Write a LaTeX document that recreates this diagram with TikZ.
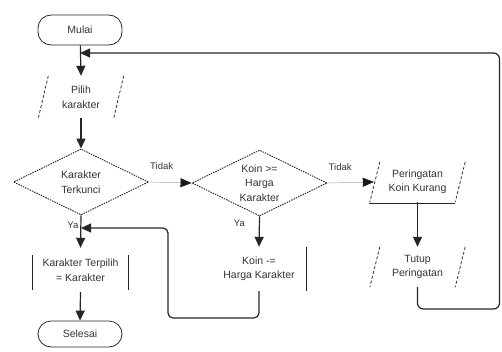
\documentclass[tikz,border=0pt]{standalone}
\usepackage{fontspec}
\setmainfont{Liberation Sans}
\usetikzlibrary{shapes.geometric,arrows.meta,calc}
\begin{document}
\begin{tikzpicture}[x=1pt,y=-1pt,
  every node/.style={font=\fontsize{10.5}{14.5}\selectfont, align=center, text=black!80},
  line/.style={line width=1.2pt, draw=black!85},
  arr/.style={line, -{Triangle[length=10pt,width=9pt]}},
  faintarr/.style={line width=0.5pt, draw=black!35, -{Triangle[length=11pt,width=9pt,color=black!90]}},
  term/.style={draw=black!85, line width=0.8pt, rounded corners=13pt, minimum width=84pt, minimum height=30pt, inner sep=0pt},
  dec/.style={diamond, draw=black!85, line width=0.9pt, dash pattern=on 1.5pt off 1pt, aspect=2, minimum width=135pt, minimum height=66pt, inner sep=0pt},
  io/.style={minimum width=75pt, minimum height=42pt, inner sep=0pt},
  side/.style={line width=0.8pt, draw=black!80, dash pattern=on 3pt off 2pt},
  proc/.style={minimum width=95pt, minimum height=44pt, inner sep=0pt},
  bar/.style={line width=1.2pt, draw=black!85},
  lbl/.style={font=\fontsize{9.5}{11}\selectfont, inner sep=1pt}
]
\useasboundingbox (0,0) rectangle (502,351);

% nodes
\node[term] (start) at (80,30) {Mulai};
\node[io] (pilih) at (81,97) {Pilih\\karakter};
\node[dec] (d1) at (81,182) {Karakter\\Terkunci};
\node[proc] (p1) at (80.5,270) {Karakter Terpilih\\= Karakter};
\node[term, minimum height=26pt] (stop) at (80,334) {Selesai};
\node[dec] (d2) at (259.5,183) {Koin >=\\Harga\\Karakter};
\node[proc, minimum width=94pt] (p2) at (259,269) {Koin -=\\Harga Karakter};
\node[io, minimum width=85pt, minimum height=40pt] (par3) at (417.5,182) {Peringatan\\Koin Kurang};
\node[io, minimum width=85pt, minimum height=40pt] (par4) at (417.5,267) {Tutup\\Peringatan};

% shape outlines drawn from node anchors
\draw[side] ($(pilih.north west)+(5,0)$) -- ($(pilih.south west)+(-5,0)$);
\draw[side] ($(pilih.north east)+(5,0)$) -- ($(pilih.south east)+(-5,0)$);
\draw[side] ($(par3.north west)+(5,0)$) -- ($(par3.south west)+(-5,0)$);
\draw[side] ($(par3.north east)+(5,0)$) -- ($(par3.south east)+(-5,0)$);
\draw[bar, line width=1pt] ($(par3.south west)+(-6,1)$) -- ($(par3.south east)+(-5,1)$);
\draw[side] ($(par4.north west)+(5,0)$) -- ($(par4.south west)+(-5,0)$);
\draw[side] ($(par4.north east)+(5,0)$) -- ($(par4.south east)+(-5,0)$);
\draw[bar] ($(p1.north west)+(0,7)$) -- ($(p1.south west)+(0,-2)$);
\draw[bar] ($(p1.north east)+(0,7)$) -- ($(p1.south east)+(0,-2)$);
\draw[bar] (p2.north east) -- (p2.south east);

% junction points
\coordinate (j0) at (80,53);
\coordinate (j1) at (81,228);

% connectors
\draw[arr] (start) -- (pilih.north);
\draw[arr] (pilih.south) -- (d1.north);
\draw[arr] (d1.south) -- node[lbl, pos=0, anchor=north east, yshift=-5pt, xshift=-1pt] {Ya} (p1.north);
\draw[arr] (p1.south) -- (stop.north);
\draw[faintarr] (d1.east) -- node[lbl, pos=0, anchor=south west, yshift=11pt] {Tidak} (d2.west);
\draw[arr] (d2.south) -- node[lbl, pos=0, anchor=north east, yshift=-2pt, xshift=-13pt] {Ya} (p2.north);
\draw[faintarr] (d2.east) -- node[lbl, pos=0, anchor=south west, yshift=11pt] {Tidak} ($(par3.west)+(-1,0)$);
\draw[arr] (par3.south) -- (par4.north);
\draw[arr, rounded corners=5pt] (p2.south) -- (259,318) -- (168,318) -- (168,228) -- (j1);
\draw[arr, rounded corners=6pt] (par4.south) -- (417.5,309) -- (499.5,309) -- (499.5,53) -- (j0);
\end{tikzpicture}
\end{document}
